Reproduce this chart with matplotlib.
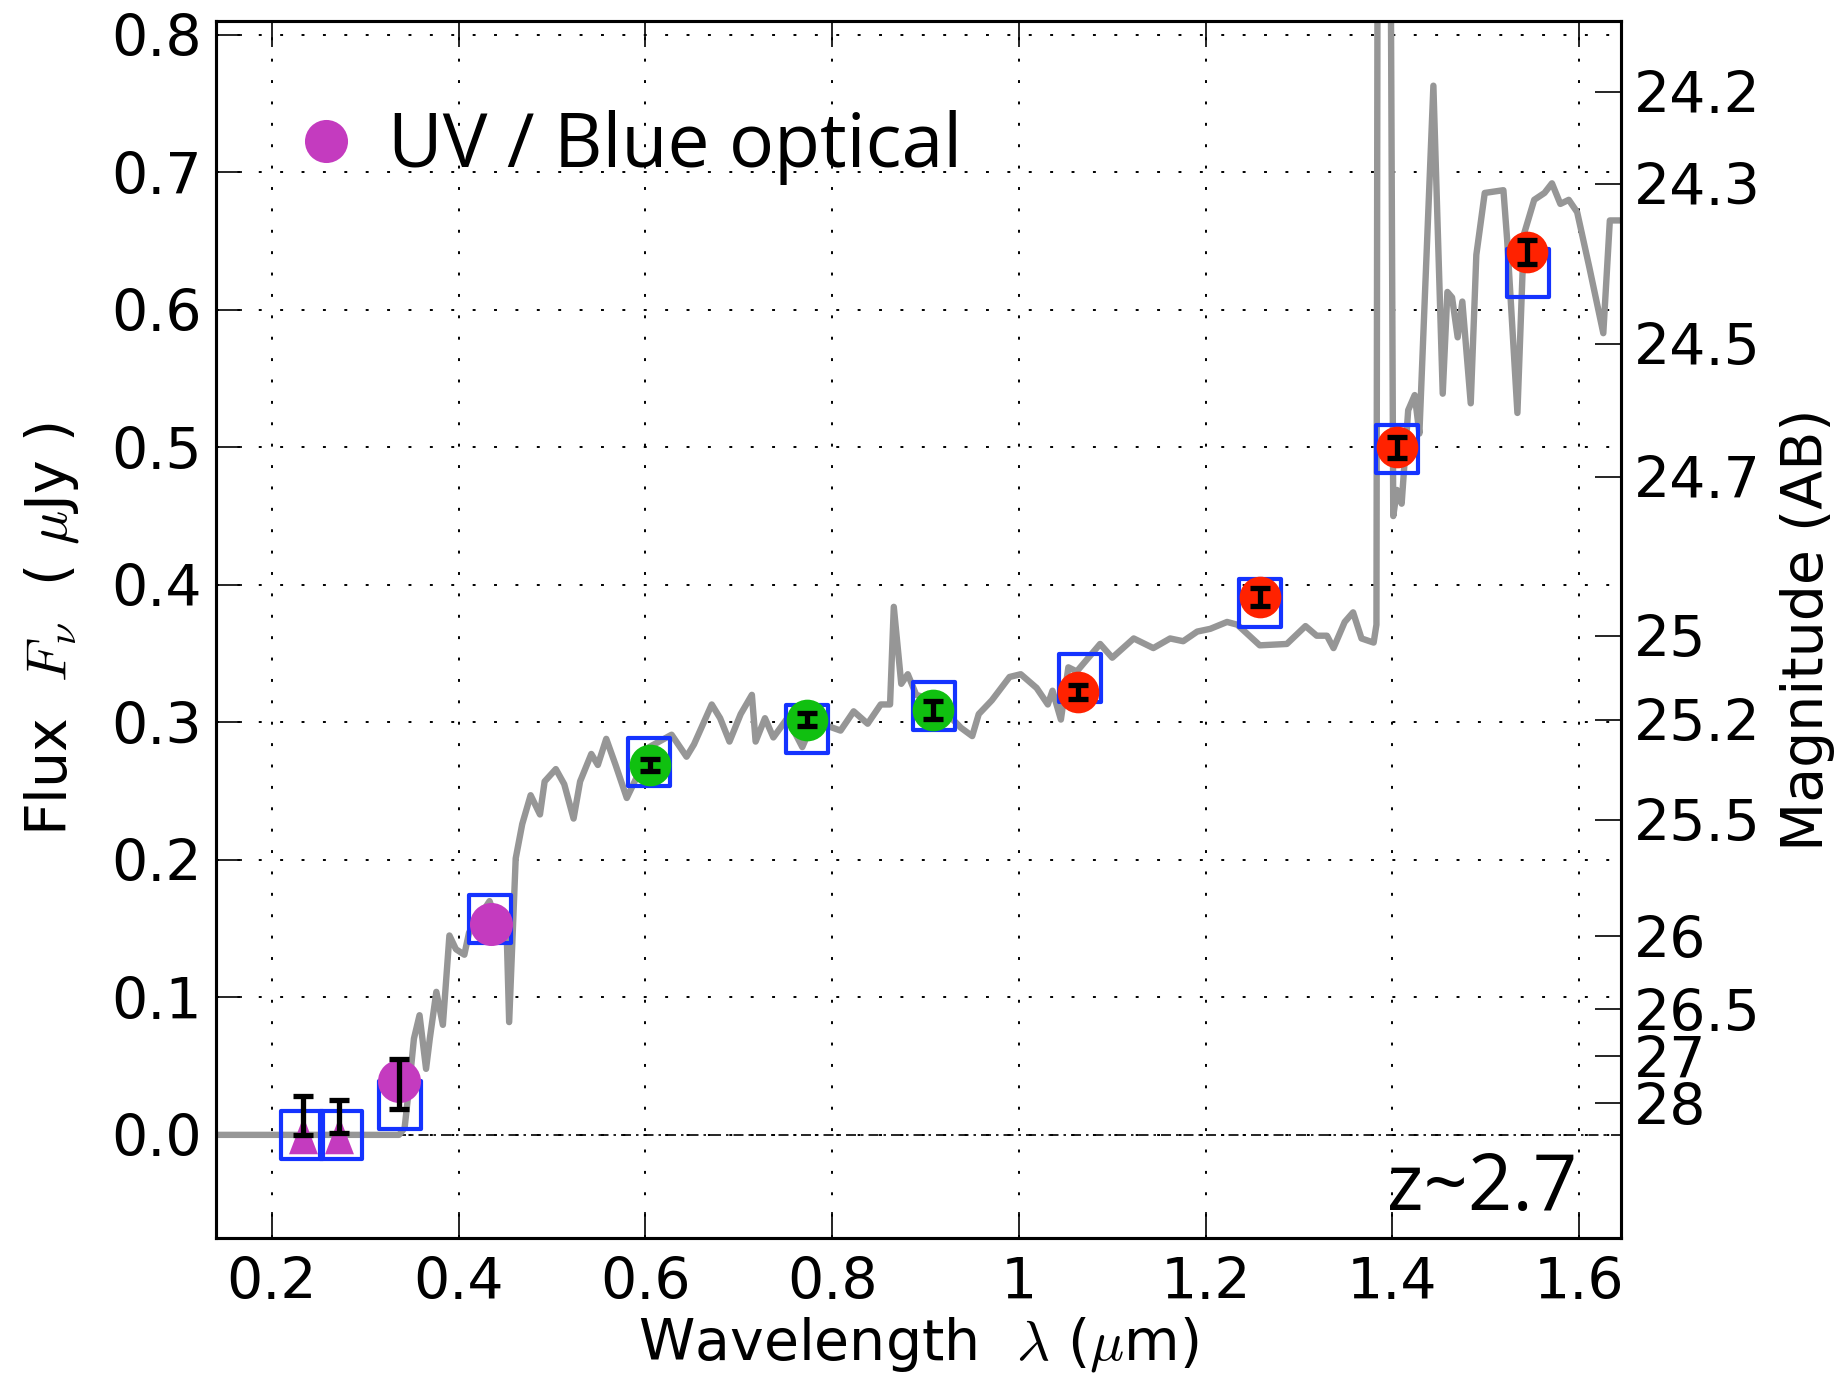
import numpy as np
import matplotlib
matplotlib.use("Agg")
import matplotlib.pyplot as plt
from matplotlib.path import Path

plt.rcParams['mathtext.fontset'] = 'cm'
plt.rcParams['font.family'] = 'DejaVu Sans'

# espectro del modelo (leido a ojo del grafico)
onda_modelo = [0.14, 0.336, 0.342, 0.347, 0.352, 0.358, 0.365, 0.369, 0.376, 0.383,
               0.390, 0.397, 0.406, 0.411, 0.433, 0.446, 0.451, 0.454, 0.461, 0.468,
               0.477, 0.487, 0.492, 0.504, 0.513, 0.523, 0.530, 0.542, 0.549, 0.558,
               0.568, 0.580, 0.592, 0.604, 0.628, 0.644, 0.652, 0.671, 0.680, 0.690,
               0.702, 0.714, 0.718, 0.728, 0.737, 0.752, 0.768, 0.780, 0.809, 0.823,
               0.838, 0.852, 0.862, 0.866, 0.874, 0.881, 0.890, 0.909, 0.938, 0.950,
               0.957, 0.971, 0.990, 1.002, 1.019, 1.031, 1.036, 1.045, 1.053, 1.062,
               1.087, 1.100, 1.123, 1.144, 1.162, 1.176, 1.191, 1.205, 1.223, 1.234,
               1.258, 1.287, 1.307, 1.319, 1.330, 1.337, 1.349, 1.358, 1.367, 1.380,
               1.383, 1.385, 1.396, 1.401, 1.405, 1.410, 1.417, 1.424, 1.429, 1.435,
               1.444, 1.454, 1.459, 1.464, 1.470, 1.475, 1.484, 1.490, 1.499, 1.519,
               1.523, 1.534, 1.541, 1.552, 1.563, 1.571, 1.580, 1.589, 1.598, 1.611,
               1.626, 1.633, 1.645]
flujo_modelo = [0.0, 0.0, 0.005, 0.036, 0.070, 0.087, 0.048, 0.070, 0.104, 0.080,
                0.145, 0.135, 0.131, 0.147, 0.170, 0.145, 0.155, 0.082, 0.201, 0.226,
                0.247, 0.233, 0.257, 0.266, 0.255, 0.230, 0.257, 0.277, 0.269, 0.288,
                0.269, 0.245, 0.262, 0.282, 0.291, 0.275, 0.284, 0.313, 0.303, 0.286,
                0.306, 0.320, 0.286, 0.303, 0.289, 0.303, 0.282, 0.301, 0.294, 0.308,
                0.299, 0.313, 0.313, 0.384, 0.328, 0.335, 0.320, 0.316, 0.296, 0.290,
                0.306, 0.316, 0.333, 0.335, 0.325, 0.313, 0.323, 0.302, 0.340, 0.337,
                0.357, 0.347, 0.361, 0.354, 0.361, 0.359, 0.366, 0.368, 0.373, 0.371,
                0.356, 0.357, 0.370, 0.363, 0.363, 0.354, 0.373, 0.380, 0.361, 0.358,
                0.371, 1.2, 1.2, 0.450, 0.469, 0.459, 0.527, 0.538, 0.510, 0.612,
                0.763, 0.539, 0.613, 0.609, 0.580, 0.606, 0.532, 0.640, 0.685, 0.687,
                0.651, 0.525, 0.655, 0.680, 0.685, 0.692, 0.677, 0.680, 0.671, 0.631,
                0.583, 0.665, 0.665]

# flujos del modelo en cada filtro (cuadros azules)
onda_cuadros = [0.232, 0.274, 0.337, 0.434, 0.604, 0.773, 0.909, 1.065, 1.258, 1.405, 1.545]
flujo_cuadros = [0.0, 0.0, 0.022, 0.157, 0.271, 0.295, 0.312, 0.332, 0.387, 0.499, 0.627]

# limites superiores UV (triangulos)
onda_triangulos = [0.233, 0.272]
flujo_triangulos = [0.0, 0.0]
flujo_err_triangulos = [0.014, 0.013]
error_triangulos = [0.014, 0.012]

# UV / azul optico
onda_magenta = [0.336, 0.435]
flujo_magenta = [0.039, 0.153]
onda_err_magenta = [0.336]
flujo_err_magenta = [0.037]
error_magenta = [0.018]

# optico
onda_verde = [0.605, 0.773, 0.908]
flujo_verde = [0.269, 0.302, 0.309]
error_verde = [0.0043, 0.0046, 0.0063]

# infrarrojo cercano
onda_rojo = [1.063, 1.258, 1.405, 1.544]
flujo_rojo = [0.322, 0.391, 0.500, 0.642]
error_rojo = [0.005, 0.0064, 0.0078, 0.0085]

# eje de magnitudes AB
magnitudes = [24.2, 24.3, 24.5, 24.7, 25, 25.2, 25.5, 26, 26.5, 27, 28]

x_ticks = [0.2, 0.4, 0.6, 0.8, 1.0, 1.2, 1.4, 1.6]
x_etiquetas = ['0.2', '0.4', '0.6', '0.8', '1', '1.2', '1.4', '1.6']
y_ticks = [0.0, 0.1, 0.2, 0.3, 0.4, 0.5, 0.6, 0.7, 0.8]

gris = '#969696'
azul = '#1433ff'
magenta = '#c43bbf'
verde = '#10c010'
rojo = '#ff2200'

# marcadores rectangulares (los cuadros del original son mas altos que anchos)
rectangulo = Path([(-0.85, -1), (0.85, -1), (0.85, 1), (-0.85, 1), (-0.85, -1)],
                  [Path.MOVETO, Path.LINETO, Path.LINETO, Path.LINETO, Path.CLOSEPOLY])
triangulo = Path([(0, 1), (-0.77, -1), (0.77, -1), (0, 1)],
                 [Path.MOVETO, Path.LINETO, Path.LINETO, Path.CLOSEPOLY])

fig = plt.figure(figsize=(18.4, 13.76), dpi=100)
ax = fig.add_axes([0.1174, 0.1003, 0.7636, 0.8844])

ax.grid(True, linestyle=(0, (1.5, 9.5)), color='k', linewidth=1.4, zorder=0)
ax.axhline(0, color='k', linewidth=1.2, linestyle=(0, (6, 3, 1.5, 3)), zorder=1)

ax.plot(onda_modelo, flujo_modelo, color=gris, linewidth=4.6, zorder=2)

ax.plot(onda_cuadros, flujo_cuadros, linestyle='none', marker=rectangulo, markersize=35,
        markerfacecolor='none', markeredgecolor=azul, markeredgewidth=3, zorder=3)

ax.plot(onda_triangulos, flujo_triangulos, linestyle='none', marker=triangulo, markersize=27,
        color=magenta, markeredgewidth=0, zorder=4)
circulos_magenta, = ax.plot(onda_magenta, flujo_magenta, linestyle='none', marker='o',
                            markersize=31, color=magenta, markeredgewidth=0, zorder=4,
                            label='UV / Blue optical')
ax.plot(onda_verde, flujo_verde, linestyle='none', marker='o', markersize=30,
        color=verde, markeredgewidth=0, zorder=4)
ax.plot(onda_rojo, flujo_rojo, linestyle='none', marker='o', markersize=30,
        color=rojo, markeredgewidth=0, zorder=4)

estilo_error = dict(fmt='none', ecolor='k', elinewidth=3.8, capsize=7, capthick=3.8, zorder=5)
ax.errorbar(onda_triangulos, flujo_err_triangulos, yerr=error_triangulos, **estilo_error)
ax.errorbar(onda_err_magenta, flujo_err_magenta, yerr=error_magenta, **estilo_error)
ax.errorbar(onda_verde, flujo_verde, yerr=error_verde, **estilo_error)
ax.errorbar(onda_rojo, flujo_rojo, yerr=error_rojo, **estilo_error)

ax.set_xlim(0.14, 1.645)
ax.set_ylim(-0.075, 0.81)
ax.set_xticks(x_ticks)
ax.set_xticklabels(x_etiquetas)
ax.set_yticks(y_ticks)
ax.set_yticklabels(['%.1f' % v for v in y_ticks])
ax.tick_params(direction='in', length=19, width=1.2, labelsize=41, pad=10,
               top=True, right=False)
ax.tick_params(axis='x', pad=13)
for lado in ax.spines.values():
    lado.set_linewidth(2.2)

ax.set_xlabel(r'Wavelength  $\lambda$ ($\mu$m)', fontsize=41, labelpad=3)
ax.set_ylabel(r'Flux  $F_\nu$  ( $\mu$Jy )', fontsize=41, labelpad=22)

# eje derecho en magnitudes AB: m = 23.9 - 2.5 log10(F / uJy)
ax2 = ax.twinx()
ax2.set_ylim(ax.get_ylim())
ax2.set_yticks([10 ** ((23.9 - m) / 2.5) for m in magnitudes])
ax2.set_yticklabels(['%g' % m for m in magnitudes])
ax2.tick_params(direction='in', length=19, width=1.2, labelsize=41, pad=9)
ax2.set_ylabel('Magnitude (AB)', fontsize=41, labelpad=14)
for lado in ax2.spines.values():
    lado.set_linewidth(2.2)

ax.legend(handles=[circulos_magenta], loc='center left', bbox_to_anchor=(0.057, 0.896),
          frameon=False, borderpad=0, borderaxespad=0, handlelength=0.8,
          handletextpad=0.42, prop={'family': 'Open Sans', 'size': 54})

ax.text(0.969, 0.023, 'z~2.7', transform=ax.transAxes, ha='right', va='baseline',
        fontsize=56, family='Open Sans')

fig.savefig('out.png', dpi=100)
